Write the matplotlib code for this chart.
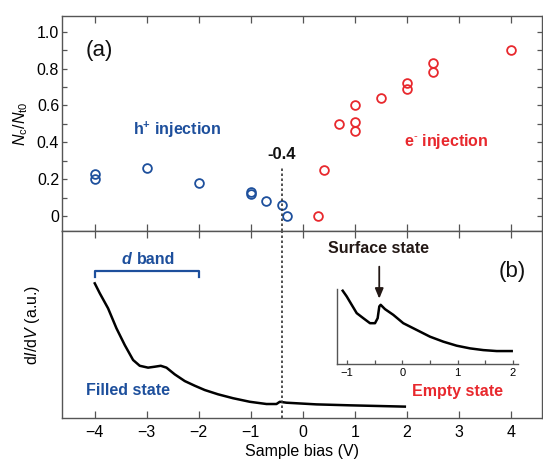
import matplotlib
matplotlib.use("Agg")
import matplotlib.pyplot as plt
from matplotlib.ticker import MultipleLocator, FixedLocator, FuncFormatter

plt.rcParams['font.family'] = ['Liberation Sans', 'DejaVu Sans']
plt.rcParams['mathtext.fontset'] = 'custom'
plt.rcParams['mathtext.rm'] = 'Liberation Sans'
plt.rcParams['mathtext.it'] = 'Liberation Sans:italic'
plt.rcParams['mathtext.bf'] = 'Liberation Sans:bold'

# ---------------- data ----------------
hole_bias = [-4, -4, -3, -2, -1, -1, -0.7, -0.4, -0.3]
hole_ratio = [0.23, 0.20, 0.26, 0.18, 0.13, 0.12, 0.08, 0.06, 0.0]

elec_bias = [0.3, 0.4, 0.7, 1, 1, 1, 1.5, 2, 2, 2.5, 2.5, 4]
elec_ratio = [0.0, 0.25, 0.50, 0.60, 0.51, 0.46, 0.64, 0.72, 0.69, 0.83, 0.78, 0.90]

sts_bias = [-4.0, -3.904, -3.744, -3.583, -3.423, -3.263, -3.135, -2.975, -2.846,
            -2.731, -2.621, -2.462, -2.269, -2.077, -1.885, -1.629, -1.340, -1.019,
            -0.698, -0.506, -0.442, -0.313, 0.263, 0.904, 1.962]
sts_didv = [0.722, 0.669, 0.588, 0.481, 0.391, 0.311, 0.280, 0.270, 0.275,
            0.280, 0.270, 0.234, 0.198, 0.173, 0.150, 0.127, 0.106, 0.087,
            0.075, 0.075, 0.087, 0.082, 0.073, 0.068, 0.061]

inset_bias = [-1.083, -1.011, -0.920, -0.829, -0.709, -0.588, -0.497, -0.449, -0.419,
              -0.394, -0.316, -0.165, 0.016, 0.260, 0.501, 0.743, 0.985, 1.227,
              1.468, 1.711, 1.983]
inset_didv = [0.977, 0.901, 0.788, 0.676, 0.608, 0.541, 0.541, 0.608, 0.766,
              0.788, 0.730, 0.653, 0.541, 0.450, 0.360, 0.293, 0.239, 0.203,
              0.180, 0.167, 0.167]

x_ticks = [-4, -3, -2, -1, 0, 1, 2, 3, 4]
y_ticks = [0, 0.2, 0.4, 0.6, 0.8, 1.0]
inset_ticks = [-1, 0, 1, 2]

BLUE = '#1d4f9c'
RED = '#e8282d'
DARK = '#231815'
SPINE = '#555555'

W, H = 543, 461
fig = plt.figure(figsize=(W / 100, H / 100), dpi=100)

def fx(px):
    return px / W

def fy(py):
    return 1 - py / H

left, right = 62, 542
axw = fx(right) - fx(left)
ax1 = fig.add_axes([fx(left), fy(231.5), axw, fy(16) - fy(231.5)])
ax2 = fig.add_axes([fx(left), fy(418), axw, fy(231.5) - fy(418)])

xlim = (-4.63, 4.6)
for ax in (ax1, ax2):
    ax.set_xlim(*xlim)
    for s in ax.spines.values():
        s.set_color(SPINE)
        s.set_linewidth(1.0)
    ax.xaxis.set_major_locator(FixedLocator(x_ticks))
    ax.tick_params(axis='x', which='major', direction='in', top=True, bottom=True,
                   length=5, width=0.9, color=SPINE, labelsize=11.5, pad=5)

# ---------- top panel ----------
ax1.set_ylim(-0.083, 1.085)
ax1.plot(hole_bias, hole_ratio, 'o', mfc='none', mec=BLUE, ms=6.3, mew=1.3)
ax1.plot(elec_bias, elec_ratio, 'o', mfc='none', mec=RED, ms=6.3, mew=1.3)
ax1.yaxis.set_major_locator(FixedLocator(y_ticks))
ax1.yaxis.set_minor_locator(MultipleLocator(0.1))
ax1.yaxis.set_major_formatter(FuncFormatter(lambda v, p: '0' if abs(v) < 1e-9 else f'{v:.1f}'))
ax1.tick_params(axis='y', which='both', direction='in', left=True, right=True,
                length=3.3, width=0.9, color=SPINE, labelsize=11.5, pad=2)
ax1.tick_params(axis='x', labelbottom=False)
ax1.set_ylabel(r'$N_{\mathrm{c}}/N_{\mathrm{t0}}$', fontsize=11.5)
ax1.yaxis.set_label_coords(fx(30 - left) / axw, 0.5)

ax1.plot([-0.4, -0.4], [-0.083, 0.266], color='#333333', lw=1.2,
         ls=(0, (1.5, 1.5)), clip_on=False)
ax1.text(-0.40, 0.335, '-0.4', fontsize=12, fontweight='bold', color='#111111',
         ha='center', va='center')
ax1.text(-3.92, 0.90, '(a)', fontsize=16, ha='center', va='center', color='#111111')
ax1.text(-2.42, 0.466, r'h$^{\mathbf{+}}$ injection', fontsize=11.5, fontweight='bold',
         color=BLUE, ha='center', va='center')
ax1.text(2.75, 0.405, r'e$^{\text{-}}$ injection', fontsize=11.5, fontweight='bold',
         color=RED, ha='center', va='center')

# ---------- bottom panel ----------
ax2.set_ylim(0, 1)
ax2.set_yticks([])
ax2.plot(sts_bias, sts_didv, color='black', lw=1.8)
ax2.plot([-0.4, -0.4], [0, 1], color='#333333', lw=1.2, ls=(0, (1.5, 1.5)))
ax2.set_xlabel('Sample bias (V)', fontsize=11.5, labelpad=3)
ax2.set_ylabel(r'd$I$/d$V$ (a.u.)', fontsize=11.5)
ax2.yaxis.set_label_coords(fx(42 - left) / axw, 0.5)

# d band bracket
ax2.plot([-4, -4, -2, -2], [0.754, 0.788, 0.788, 0.754], color=BLUE, lw=1.6)
ax2.text(-3.48, 0.850, 'd', fontsize=11.5, fontweight='bold', fontstyle='italic',
         color=BLUE, ha='left', va='center')
ax2.text(-3.19, 0.850, 'band', fontsize=11.5, fontweight='bold',
         color=BLUE, ha='left', va='center')
ax2.text(-3.37, 0.146, 'Filled state', fontsize=11.5, fontweight='bold',
         color=BLUE, ha='center', va='center')
ax2.text(2.98, 0.144, 'Empty state', fontsize=11.5, fontweight='bold',
         color=RED, ha='center', va='center')
ax2.text(4.02, 0.788, '(b)', fontsize=16, ha='center', va='center', color='#111111')

# ---------- inset ----------
ax3 = fig.add_axes([fx(337.3), fy(363.5), fx(518.3) - fx(337.3), fy(289) - fy(363.5)])
ax3.patch.set_alpha(0)
ax3.set_xlim(-1.181, 2.103)
ax3.set_ylim(0, 1)
ax3.plot(inset_bias, inset_didv, color='black', lw=1.8)
ax3.spines['top'].set_visible(False)
ax3.spines['right'].set_visible(False)
for s in ('left', 'bottom'):
    ax3.spines[s].set_color(SPINE)
    ax3.spines[s].set_linewidth(1.0)
ax3.set_yticks([])
ax3.xaxis.set_major_locator(FixedLocator(inset_ticks))
ax3.xaxis.set_minor_locator(MultipleLocator(0.5))
ax3.tick_params(axis='x', which='both', direction='in', length=3, width=0.9,
                color=SPINE, labelsize=8, pad=3)
ax3.annotate('', xy=(-0.42, 0.87), xytext=(-0.42, 1.30), xycoords='data',
             arrowprops=dict(arrowstyle='-|>,head_length=0.6,head_width=0.25',
                             color=DARK, lw=1.3, shrinkA=0, shrinkB=0),
             annotation_clip=False)
ax3.text(-0.44, 1.55, 'Surface state', fontsize=11.5, fontweight='bold',
         color=DARK, ha='center', va='center', clip_on=False)

fig.savefig('out.png', dpi=100)
